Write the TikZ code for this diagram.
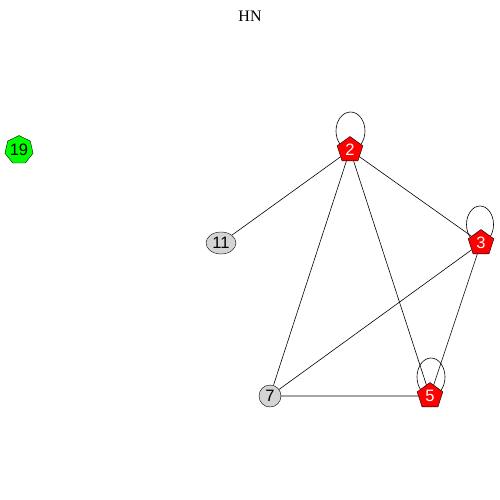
\documentclass[tikz,border=0pt]{standalone}
\usepackage{fontspec}
\setmainfont{Liberation Serif}
\newfontfamily\lab{Liberation Sans}
\usetikzlibrary{shapes.geometric,backgrounds}
\begin{document}
\begin{tikzpicture}[x=1pt,y=-1pt,
  lbl/.style={font=\lab\fontsize{16.5}{16.5}\selectfont,inner sep=0pt},
  pent/.style={lbl,regular polygon,regular polygon sides=5,draw,fill=red,text=white,minimum size=27pt},
  hept/.style={lbl,regular polygon,regular polygon sides=7,draw,fill=green,minimum size=26pt},
  ell/.style={lbl,ellipse,draw,fill=black!17,minimum width=30pt,minimum height=22pt},
  circ/.style={lbl,circle,draw,fill=black!17,minimum size=22pt},
  edg/.style={draw,line width=0.6pt}]
\useasboundingbox (0,0) rectangle (500,500);
\node[font=\fontsize{16}{16}\selectfont] (title) at (250,16) {HN};
\node[pent] (n2) at (350,150) {2};
\node[pent] (n3) at (481,243) {3};
\node[pent] (n5) at (430,396) {5};
\node[circ] (n7) at (270,396) {7};
\node[ell] (n11) at (221,243) {11};
\node[hept] (n19) at (19,150) {19};
\path[edg] (n2) -- (n11);
\path[edg] (n2) -- (n3);
\path[edg] (n2) -- (n7);
\path[edg] (n2) -- (n5);
\path[edg] (n3) -- (n7);
\path[edg] (n3) -- (n5);
\path[edg] (n7) -- (n5);
\begin{scope}[on background layer]
\path[edg] (n2.center) ++(0.5,-19) ellipse (14.5 and 19);
\path[edg] (n3.center) ++(-1,-18.5) ellipse (13.5 and 18.5);
\path[edg] (n5.center) ++(1,-19) ellipse (14 and 19);
\end{scope}
\end{tikzpicture}
\end{document}
